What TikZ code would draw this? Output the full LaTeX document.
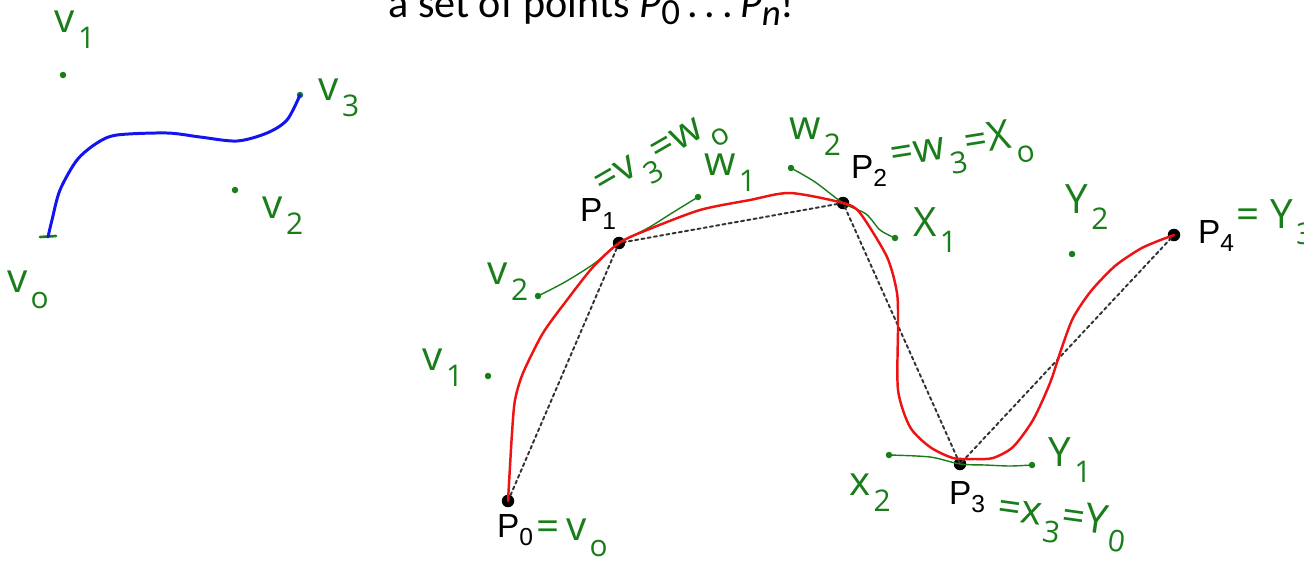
\documentclass[tikz,border=0pt]{standalone}
\usepackage{fontspec}
\setmainfont{Carlito}
\newfontfamily\labelfont{Liberation Sans}
\newfontfamily\handfont{Open Sans}
\definecolor{ink}{RGB}{25,125,25}
\definecolor{redpen}{RGB}{238,18,18}
\definecolor{bluepen}{RGB}{20,20,238}
\newcommand\hsub[1]{\raisebox{-0.4em}{\kern0.08em\fontsize{17}{17}\selectfont#1}}
\newcommand\psub[1]{\raisebox{-0.22em}{\fontsize{14}{14}\selectfont#1}}
\begin{document}
\begin{tikzpicture}[x=0.02cm, y=-0.02cm, line join=round, line cap=round,
  knot/.style={circle, fill=black, inner sep=0pt, minimum size=0.25cm},
  ctrl/.style={circle, fill=ink, inner sep=0pt, minimum size=0.13cm},
  plabel/.style={font=\labelfont\fontsize{19}{21}\selectfont, inner sep=0pt},
  hand/.style={text=ink, font=\handfont\fontsize{23}{25}\selectfont, inner sep=0pt},
  polygon/.style={gray!40!black, line width=1.1pt, dash pattern=on 1.8pt off 1.8pt},
  tangent/.style={ink, line width=0.8pt},
  curve/.style={redpen, line width=1.4pt}]
\useasboundingbox (0,0) rectangle (1304,561);
% title line, cut off at the top
\node[anchor=base west, inner sep=0pt, font=\fontsize{24}{28}\selectfont] (title) at (388,17)
  {a set of points \textit{P}\raisebox{-0.18em}{\fontsize{21}{21}\selectfont 0}\,.\,.\,.\,\textit{P}\raisebox{-0.2em}{\fontsize{21}{21}\selectfont\textit{n}}!};

% left: one cubic segment
\node[ctrl] (lv1) at (63,75) {};
\node[ctrl] (lv2) at (235,190) {};
\node[ctrl] (lv3) at (300,95) {};
\coordinate (lv0) at (48,237);
\draw[ink, line width=1.5pt] (40,237) -- (56,236);
\draw[bluepen, line width=1.7pt] plot[smooth, tension=0.5] coordinates {(lv0) (52,220) (60,190) (77,160) (97,143) (117,135) (167,133) (200,137) (237,141) (267,133) (287,120) (lv3.center)};
\path (75,30) node[hand] (tv1) {v\hsub{1}}
      (339,98) node[hand] (tv3) {v\hsub{3}}
      (283,216) node[hand] (tv2) {v\hsub{2}}
      (28,290) node[hand] (tv0) {v\hsub{o}};

% right: the points P0 ... P4
\node[knot] (P0) at (508,501) {};
\node[knot] (P1) at (619,243) {};
\node[knot] (P2) at (843,203) {};
\node[knot] (P3) at (960,464) {};
\node[knot] (P4) at (1174,235) {};
\path (515,530) node[plabel] (n0) {P\psub{0}}
      (598,214) node[plabel] (n1) {P\psub{1}}
      (869,171) node[plabel] (n2) {P\psub{2}}
      (967,497) node[plabel] (n3) {P\psub{3}}
      (1216,236) node[plabel] (n4) {P\psub{4}};
\draw[polygon] (P0.center) -- (P1.center) -- (P2.center) -- (P3.center) -- (P4.center);

% control points of the pieces
\node[ctrl] (v1) at (488,376) {};
\node[ctrl] (v2) at (538,296) {};
\node[ctrl] (w1) at (698,197) {};
\node[ctrl] (w2) at (791,168) {};
\node[ctrl] (x1) at (895,238) {};
\node[ctrl] (x2) at (889,455) {};
\node[ctrl] (y1) at (1032,465) {};
\node[ctrl] (y2) at (1072,254) {};
\draw[tangent] plot[smooth, tension=0.5] coordinates {(v2.center) (565,282) (595,263) (P1.center) (648,228) (672,213) (w1.center)};
\draw[tangent] plot[smooth, tension=0.5] coordinates {(w2.center) (815,182) (P2.center) (866,214) (880,230) (x1.center)};
\draw[tangent] plot[smooth, tension=0.5] coordinates {(x2.center) (930,457) (P3.center) (985,465) (1010,466) (y1.center)};

\draw[curve] plot[smooth, tension=0.45] coordinates {(P0.center) (512,433) (515,400) (523,373) (543,333) (567,300) (593,267) (P1.center) (647,230) (700,210) (750,200) (790,193) (P2.center) (860,213) (887,257) (897,293) (898,327) (898,390) (910,427) (930,447) (953,458) (975,459) (993,458) (1013,447) (1033,420) (1050,383) (1061,350) (1073,318) (1091,291) (1115,266) (1140,249) (1158,241) (P4.center)};

% handwritten names
\path (443,368) node[hand] (hv1) {v\hsub{1}}
      (508,282) node[hand] (hv2) {v\hsub{2}}
      (662,158) node[hand, rotate=30] (hp1) {=v\hsub{3}=w\hsub{o}}
      (730,173) node[hand] (hw1) {w\hsub{1}}
      (815,137) node[hand] (hw2) {w\hsub{2}}
      (962,150) node[hand, rotate=9] (hp2) {=w\hsub{3}=X\hsub{o}}
      (935,230) node[hand] (hx1) {X\hsub{1}}
      (1087,207) node[hand] (hy2) {Y\hsub{2}}
      (1275,222) node[hand] (hp4) {= Y\hsub{3}}
      (870,493) node[hand] (hx2) {x\hsub{2}}
      (1070,460) node[hand] (hy1) {Y\hsub{1}}
      (1062,522) node[hand, rotate=-8] (hp3) {=x\hsub{3}=Y\hsub{0}}
      (572,538) node[hand] (hp0) {=\,v\hsub{o}};
\end{tikzpicture}
\end{document}
